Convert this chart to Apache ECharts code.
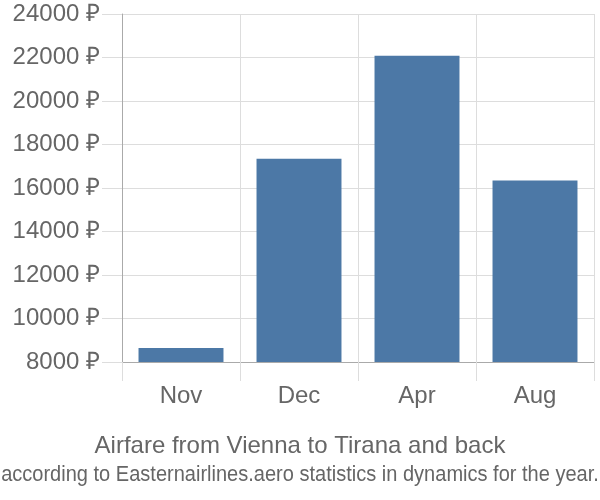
<!DOCTYPE html>
<html><head><meta charset="utf-8">
<script src="https://cdn.jsdelivr.net/npm/echarts@6/dist/echarts.min.js"></script>
<style>html,body{margin:0;padding:0;background:#fff}#c{width:600px;height:500px}</style>
</head><body><div id="c"></div>
<script>
const categories = ["Nov", "Dec", "Apr", "Aug"];
const prices = [8640, 17350, 22080, 16340];
const yTicks = [8000, 24000, 2000];
const titleText = "Airfare from Vienna to Tirana and back";
const subText = "according to Easternairlines.aero statistics in dynamics for the year.";

const chart = echarts.init(document.getElementById('c'), null, {renderer: 'canvas'});
chart.setOption({
  animation: false,
  textStyle: {fontFamily: 'Liberation Sans'},
  graphic: [
    {type: 'text', x: 300, y: 446.5, style: {text: titleText, align: 'center', verticalAlign: 'middle',
      fontFamily: 'Liberation Sans', fontSize: 24, fill: '#666'}},
    {type: 'text', x: 300, y: 475, scaleX: 0.89, style: {text: subText, align: 'center', verticalAlign: 'middle',
      fontFamily: 'Liberation Sans', fontSize: 22.5, fill: '#666'}}
  ],
  grid: {left: 122, right: 6, top: 14, bottom: 138, containLabel: false},
  xAxis: {
    type: 'category',
    data: categories,
    boundaryGap: true,
    axisLine: {show: true, lineStyle: {color: '#aaa', width: 1}},
    axisTick: {show: true, length: 19, interval: 0, lineStyle: {color: '#ddd'}},
    splitLine: {show: true, interval: 0, lineStyle: {color: '#ddd'}},
    axisLabel: {fontSize: 24, color: '#666', margin: 22, fontFamily: 'Liberation Sans'}
  },
  yAxis: {
    type: 'value',
    min: yTicks[0], max: yTicks[1], interval: yTicks[2],
    axisLine: {show: true, lineStyle: {color: '#aaa'}},
    axisTick: {show: true, length: 20, lineStyle: {color: '#ddd'}},
    splitLine: {show: true, lineStyle: {color: '#ddd'}},
    axisLabel: {fontSize: 24, color: '#666', margin: 22, formatter: v => v + ' ₽', fontFamily: 'Liberation Sans'}
  },
  series: [{
    type: 'bar',
    data: prices,
    barCategoryGap: '28%',
    itemStyle: {color: '#4c78a6'}
  }]
});
</script></body></html>
